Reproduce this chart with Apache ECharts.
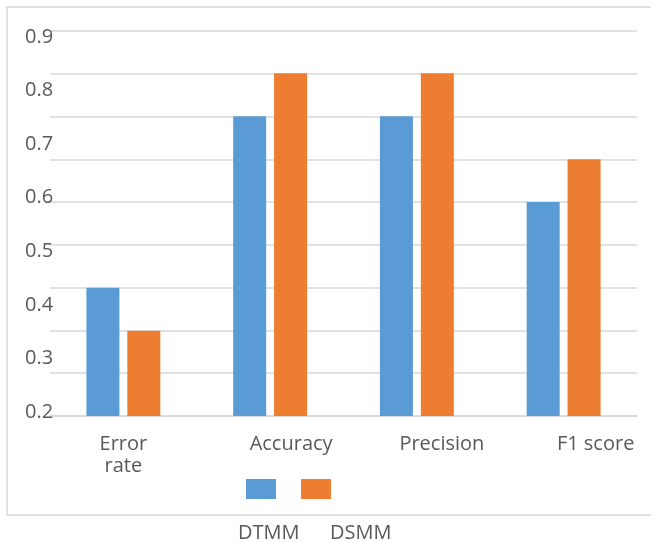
<!DOCTYPE html>
<html>
<head>
<meta charset="utf-8">
<script src="https://cdn.jsdelivr.net/npm/echarts@6/dist/echarts.min.js"></script>
<style>html,body{margin:0;padding:0;background:#fff;}#c{width:651px;height:542px;}</style>
</head>
<body>
<div id="c"></div>
<script>
var categories = ['Error\nrate', 'Accuracy', 'Precision', 'F1 score'];
var seriesNames = ['DTMM', 'DSMM'];
var dtmm = [0.433, 0.745, 0.745, 0.589];
var dsmm = [0.355, 0.823, 0.823, 0.667];
var yTickMin = 0.2, yTickMax = 0.9, yTickStep = 0.1;
var labelShift = [0, 42, 50, 64];

var font = 'Open Sans';
var txt = '#595959';
var gridCol = '#d9d9d9';
var fs = 20;

var chart = echarts.init(document.getElementById('c'), null, {renderer: 'canvas'});
chart.setOption({
  backgroundColor: '#fff',
  animation: false,
  graphic: [{
    type: 'rect', shape: {x: 7, y: 7, width: 700, height: 508},
    style: {fill: 'none', stroke: gridCol, lineWidth: 1.5}, z: -1
  }],
  grid: [
    {left: 50, right: 14, top: 31, bottom: 126},
    {left: 50, right: 14, top: 37, height: 375}
  ],
  xAxis: [{
    type: 'category', gridIndex: 0,
    data: categories.map(function (c, i) {
      return {value: c, textStyle: {padding: [0, 0, 0, labelShift[i]]}};
    }),
    axisLine: {lineStyle: {color: gridCol, width: 1.5}},
    axisTick: {show: false},
    axisLabel: {color: txt, fontFamily: font, fontSize: fs, lineHeight: 22, margin: 17, interval: 0}
  }, {
    type: 'category', gridIndex: 1, data: categories, show: false
  }],
  yAxis: [{
    type: 'value', gridIndex: 0, min: yTickMin, max: yTickMax,
    axisLabel: {show: false}, splitLine: {show: false}, axisLine: {show: false}, axisTick: {show: false}
  }, {
    type: 'value', gridIndex: 0, min: 0, max: 9, interval: 1,
    axisLabel: {show: false}, axisLine: {show: false}, axisTick: {show: false},
    splitLine: {show: true, lineStyle: {color: gridCol, width: 1.5}}
  }, {
    type: 'value', gridIndex: 1, min: yTickMin, max: yTickMax, interval: yTickStep,
    axisLine: {show: false}, axisTick: {show: false}, splitLine: {show: false},
    axisLabel: {color: txt, fontFamily: font, fontSize: fs, align: 'left', margin: 25,
      formatter: function (v) { return v.toFixed(1); }}
  }],
  legend: [{
    data: seriesNames, left: 241, top: 474, itemWidth: 30, itemHeight: 20, itemGap: 25,
    icon: 'rect', formatter: function () { return ''; }, selectedMode: false,
    textStyle: {fontSize: 1}
  }, {
    data: [seriesNames[0]], left: 228, top: 518, itemWidth: 0, itemHeight: 0, icon: 'rect', selectedMode: false,
    textStyle: {color: txt, fontFamily: font, fontSize: fs}
  }, {
    data: [seriesNames[1]], left: 320, top: 518, itemWidth: 0, itemHeight: 0, icon: 'rect', selectedMode: false,
    textStyle: {color: txt, fontFamily: font, fontSize: fs}
  }],
  series: [{
    name: seriesNames[0], type: 'bar', xAxisIndex: 0, yAxisIndex: 0, data: dtmm,
    barWidth: 33, barGap: '24%', itemStyle: {color: '#5B9BD5'}
  }, {
    name: seriesNames[1], type: 'bar', xAxisIndex: 0, yAxisIndex: 0, data: dsmm,
    barWidth: 33, barGap: '24%', itemStyle: {color: '#ED7D31'}
  }]
});
</script>
</body>
</html>
